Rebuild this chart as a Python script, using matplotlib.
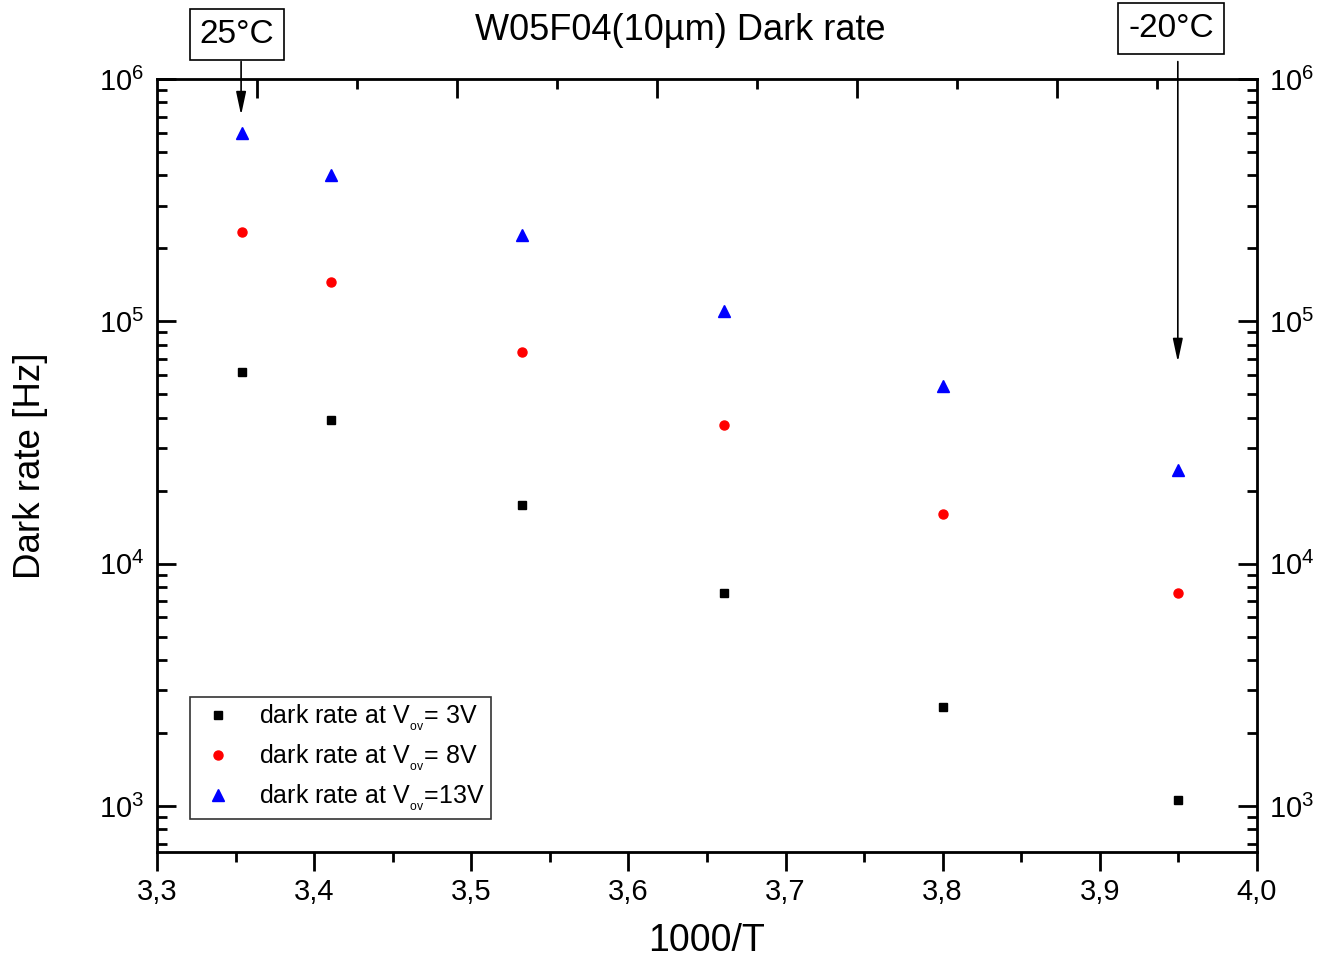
import numpy as np
import matplotlib.pyplot as plt
from matplotlib.ticker import MultipleLocator, LogLocator, NullFormatter, FixedLocator

plt.rcParams['font.family'] = ['Liberation Sans', 'DejaVu Sans']
plt.rcParams['mathtext.fontset'] = 'custom'
plt.rcParams['mathtext.rm'] = 'Liberation Sans'
plt.rcParams['mathtext.it'] = 'Liberation Sans'

# 1000/T for 25, 20, 10, 0, -10, -20 °C
inv_t = [3.354, 3.411, 3.532, 3.661, 3.800, 3.950]
rate_3v = [6.2e4, 3.9e4, 1.75e4, 7.6e3, 2.55e3, 1.06e3]
rate_8v = [2.34e5, 1.45e5, 7.5e4, 3.73e4, 1.6e4, 7.6e3]
rate_13v = [6.0e5, 4.0e5, 2.27e5, 1.1e5, 5.4e4, 2.43e4]

fig = plt.figure(figsize=(13.23, 9.6), dpi=100)
ax = fig.add_axes([0.1187, 0.1125, 0.8313, 0.8052])

ax.plot(inv_t, rate_3v, 's', color='black', ms=6, ls='none',
        label=r'dark rate at V$_{_{\rm ov}}$= 3V')
ax.plot(inv_t, rate_8v, 'o', color='red', ms=6.5, ls='none',
        label=r'dark rate at V$_{_{\rm ov}}$= 8V')
ax.plot(inv_t, rate_13v, '^', color='blue', ms=8, ls='none',
        label=r'dark rate at V$_{_{\rm ov}}$=13V')

ax.set_yscale('log')
ax.set_xlim(3.3, 4.0)
ax.set_ylim(646, 1e6)

ax.xaxis.set_major_locator(MultipleLocator(0.1))
ax.xaxis.set_minor_locator(MultipleLocator(0.05))
ax.set_xticklabels([f'{v:.1f}'.replace('.', ',') for v in ax.get_xticks()])
ax.yaxis.set_major_locator(LogLocator(base=10, numticks=10))
ax.yaxis.set_minor_locator(LogLocator(base=10, subs=np.arange(2, 10), numticks=20))
ax.yaxis.set_minor_formatter(NullFormatter())

ax.tick_params(axis='x', which='major', direction='out', length=14, width=2, labelsize=21, pad=5)
ax.tick_params(axis='x', which='minor', direction='out', length=7, width=2)
ax.tick_params(axis='y', which='major', direction='in', length=14, width=2, labelsize=21,
               right=True, labelright=True, pad=9)
ax.tick_params(axis='y', which='minor', direction='in', length=7, width=2, right=True)
for s in ax.spines.values():
    s.set_linewidth(2)

# top axis with its own ticks, no labels
top = ax.twiny()
top.set_xlim(0, 11)
top.xaxis.set_major_locator(FixedLocator([1, 3, 5, 7, 9]))
top.xaxis.set_minor_locator(FixedLocator([2, 4, 6, 8, 10]))
top.tick_params(axis='x', which='major', direction='in', length=14, width=2, labeltop=False)
top.tick_params(axis='x', which='minor', direction='in', length=7, width=2)

ax.set_xlabel('1000/T', fontsize=27, labelpad=12)
ax.set_ylabel('Dark rate [Hz]', fontsize=26.5, labelpad=37)
fig.text(0.514, 0.968, 'W05F04(10µm) Dark rate', ha='center', va='center', fontsize=26)

leg = ax.legend(loc='lower left', bbox_to_anchor=(0.030, 0.043), fontsize=18, frameon=True,
                fancybox=False, edgecolor='black', borderpad=0.25, handletextpad=0.8,
                labelspacing=0.38, borderaxespad=0, handlelength=1.7)
leg.get_frame().set_linewidth(1.2)

# temperature annotations: boxes above the frame, vertical arrows down to the data
box = dict(boxstyle='square,pad=0.3', fc='white', ec='black', lw=1.2)
arrow = dict(arrowstyle='-|>,head_length=1.4,head_width=0.3', color='black', lw=1.2,
             shrinkA=0, shrinkB=0)
ax.text(3.351, 1.52e6, '25°C', fontsize=24, ha='center', va='center', bbox=box, clip_on=False)
ax.annotate('', xy=(3.3535, 7.1e5), xytext=(3.3535, 1.18e6), annotation_clip=False,
            arrowprops=arrow)
ax.text(3.9455, 1.61e6, '-20°C', fontsize=24, ha='center', va='center', bbox=box, clip_on=False)
ax.annotate('', xy=(3.9497, 6.8e4), xytext=(3.9497, 1.18e6), annotation_clip=False,
            arrowprops=arrow)

fig.savefig('out.png', dpi=100)
